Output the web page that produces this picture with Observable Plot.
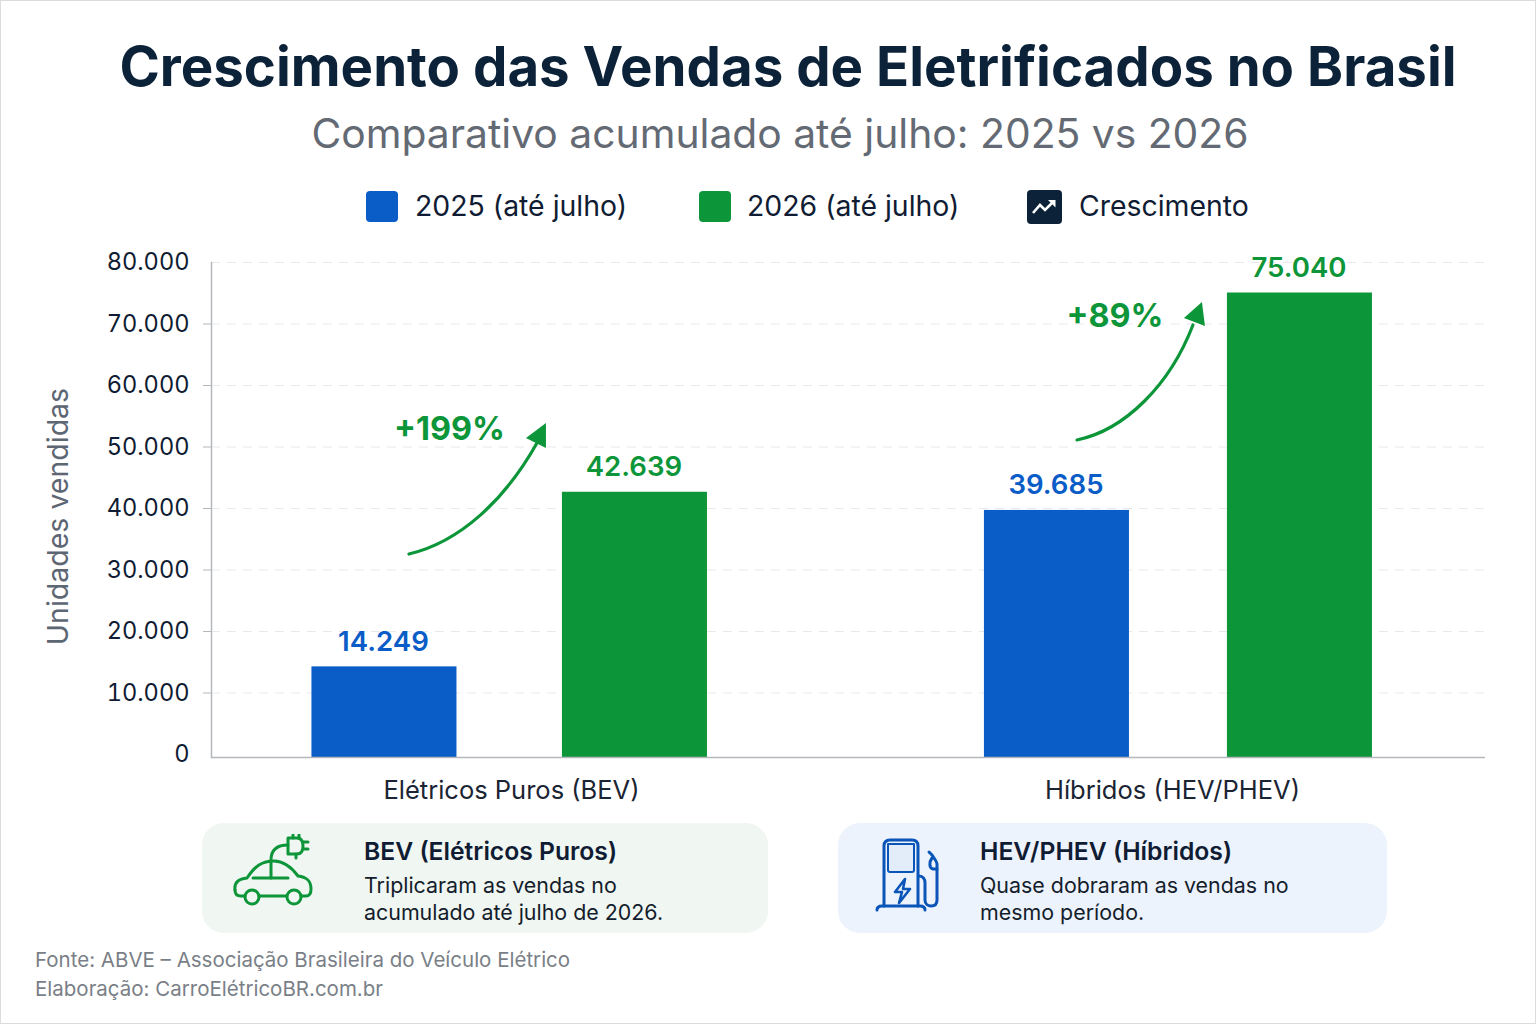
<!DOCTYPE html>
<html lang="pt-BR">
<head>
<meta charset="utf-8">
<title>Crescimento das Vendas de Eletrificados no Brasil</title>
<script src="https://cdn.jsdelivr.net/npm/d3@7"></script>
<script src="https://cdn.jsdelivr.net/npm/@observablehq/plot@0.6"></script>
<style>
  html,body{margin:0;padding:0;background:#fff}
  #page{position:relative;width:1536px;height:1024px;overflow:hidden;font-family:Inter,sans-serif;background:#fff;box-sizing:border-box}
  #page>*{position:absolute}
  #frameline{left:0;top:0;width:1536px;height:1024px;box-sizing:border-box;border:1px solid #dcdcdc;pointer-events:none}
  h1,h2,p{margin:0;font-weight:normal}
  #title{left:0;width:1576px;top:32px;text-align:center;font-size:54.6px;font-weight:700;color:#0b2239;line-height:68px;white-space:nowrap}
  #subtitle{left:0;width:1560px;top:106px;text-align:center;font-size:40.8px;color:#646a74;line-height:54px;white-space:nowrap}
  .lg{font-size:28.4px;color:#101c33;line-height:36px;white-space:nowrap;top:188px}
  .sw{top:191px;width:32px;height:31px;border-radius:4px}
  .card{top:823px;height:110px;border-radius:22px}
  .ct{font-size:24.7px;font-weight:600;color:#101c33;line-height:32px;top:835px;white-space:nowrap}
  .cb{font-size:21.4px;color:#141d2c;line-height:27px;top:872px;white-space:nowrap}
  #src{left:35px;top:945px;font-size:20.5px;line-height:29px;color:#7a7f87;white-space:nowrap}
  #chart{left:0;top:240px}
</style>
</head>
<body>
<div id="page">
  <h1 id="title">Crescimento das Vendas de Eletrificados no Brasil</h1>
  <h2 id="subtitle">Comparativo acumulado até julho: 2025 vs 2026</h2>

  <div class="sw" style="left:366px;background:#0a5cc7"></div>
  <div class="lg" style="left:415px">2025 (até julho)</div>
  <div class="sw" style="left:699px;background:#0d9639"></div>
  <div class="lg" style="left:747px">2026 (até julho)</div>
  <svg style="left:1027px;top:190px" width="35" height="34" viewBox="0 0 35 34">
    <rect width="35" height="34" rx="4" fill="#0b2239"/>
    <path d="M6 23 L13 15 L18 20 L27 11" fill="none" stroke="#fff" stroke-width="2.6"/>
    <path d="M21 10 H28.500 V17.500 Z" fill="#fff"/>
  </svg>
  <div class="lg" style="left:1079px">Crescimento</div>

  <div id="chart"></div>

  <div class="card" style="left:202px;width:566px;background:#f0f6f1"></div>
  <svg style="left:230px;top:834px" width="86" height="74" viewBox="0 0 86 74" fill="none" stroke="#0d9639" stroke-width="3" stroke-linecap="round" stroke-linejoin="round">
    <path d="M41 44 V26 C41 16 47 11 58 11"/>
    <path d="M58 4 H67 C71 4 73 7 73 12 C73 17 71 20 67 20 H58 Z"/>
    <path d="M63 1 V4 M69 1 V4 M73 8 H78 M73 15 H78 M66 20 V24"/>
    <path d="M5 56 C4 47 10 45 17 44 C25 32 32 27 44 27 C55 27 62 34 68 42 C76 43 81 46 81 55 C81 60 79 62 76 62 H71"/>
    <path d="M5 56 C5 60 7 62 11 62 H15"/>
    <path d="M29 62 H56"/>
    <path d="M23 44 H58"/>
    <circle cx="22" cy="63" r="7"/>
    <circle cx="64" cy="63" r="7"/>
  </svg>
  <div class="ct" style="left:364px">BEV (Elétricos Puros)</div>
  <div class="cb" style="left:364px">Triplicaram as vendas no<br>acumulado até julho de 2026.</div>

  <div class="card" style="left:838px;width:549px;background:#edf3fc"></div>
  <svg style="left:870px;top:834px" width="78" height="80" viewBox="0 0 78 80" fill="none" stroke="#0a55b8" stroke-width="3" stroke-linecap="round" stroke-linejoin="round">
    <path d="M14 72 V12 C14 8 16 6 20 6 H42 C46 6 48 8 48 12 V72"/>
    <path d="M7 76 C7 73 9 72 12 72 H50 C53 72 55 73 55 76"/>
    <path d="M18 10 H44 V36 C44 37 43 38 42 38 H20 C19 38 18 37 18 36 Z" fill="#e3ecf9" stroke="#0a55b8" stroke-width="2"/>
    <path d="M35 45 L25 58 H32 L29 69 L40 55 H33 Z" stroke-width="2.6"/>
    <path d="M49 42 C53 42 55 45 55 49 V66 C55 70 58 72 61 72 C65 72 67 70 67 66 V30 C67 28 64 24 62 21 L59 18"/>
    <path d="M62 24 C59 28 59 34 63 35 H67"/>
  </svg>
  <div class="ct" style="left:980px">HEV/PHEV (Híbridos)</div>
  <div class="cb" style="left:980px">Quase dobraram as vendas no<br>mesmo período.</div>

  <div id="src">Fonte: ABVE – Associação Brasileira do Veículo Elétrico<br>Elaboração: CarroElétricoBR.com.br</div>
  <div id="frameline"></div>
</div>
<script>
// --- Data ---
const categories = ["Elétricos Puros (BEV)", "Híbridos (HEV/PHEV)"];
const sales2025 = [14249, 39685];
const sales2026 = [42639, 75040];
const growthLabels = ["+199%", "+89%"];
const growthLabelLevels = [52850, 71200];
const yTicks = [0, 10000, 20000, 30000, 40000, 50000, 60000, 70000, 80000];
const yGridLines = [10000, 20000, 30000, 40000, 50000, 60000, 70000, 80000];
const yTickMarks = [10000, 20000, 30000, 40000, 50000, 60000, 70000];

// --- Styling ---
const BLUE = "#0a5cc7", GREEN = "#0d9639", INK = "#101c33";
const fmt = d3.formatLocale({decimal: ",", thousands: ".", grouping: [3], currency: ["", ""]}).format(",d");

// Horizontal offsets of the two bars from the centre of each group.
const offsets2025 = [-127, -115.5];
const offsets2026 = [123.5, 127.5];
const growthLabelOffsets = [-62, -57.5];

const barMarks = (values, offsets, color) => categories.flatMap((c, i) => {
  const row = [{category: c, value: values[i]}];
  return [
    Plot.barY(row, {x: "category", y: "value", fill: color, dx: offsets[i], insetBottom: -3}),
    Plot.text(row, {x: "category", y: "value", text: d => fmt(d.value), dx: offsets[i] - 1, dy: -25,
      fill: color, fontSize: 27.6, fontWeight: 600})
  ];
});

const growthMarks = categories.map((c, i) =>
  Plot.text([{category: c, level: growthLabelLevels[i], label: growthLabels[i]}], {
    x: "category", y: "level", text: "label", dx: growthLabelOffsets[i],
    fill: GREEN, fontSize: 32.4, fontWeight: 700
  }));

// Curved growth arrows with a solid head, anchored to the plot's scales.
function growthArrows(index, {x, y}, values, dims) {
  const bw = x.bandwidth ? x.bandwidth() / 2 : 72.5;
  const g = d3.create("svg:g").attr("fill", GREEN).attr("stroke", GREEN);
  const shapes = [
    {c: categories[0], lv: [32520, 34470, 41300, 50570, 53820, 51380, 49760],
     px: [-102, -51, -6, 26, 35, 15, 35]},
    {c: categories[1], lv: [51060, 52680, 60000, 69760, 73500, 70900, 69600],
     px: [-95, -47, -2, 21, 30, 12, 33]}
  ];
  for (const s of shapes) {
    const cx = x(s.c) + bw;
    const X = s.px.map(p => cx + p), Y = s.lv.map(v => y(v));
    g.append("path").attr("fill", "none").attr("stroke-width", 3.2).attr("stroke-linecap", "round")
      .attr("d", `M${X[0]},${Y[0]} C${X[1]},${Y[1]} ${X[2]},${Y[2]} ${X[3]},${Y[3]}`);
    g.append("path").attr("stroke", "none")
      .attr("d", `M${X[4]},${Y[4]} L${X[5]},${Y[5]} L${X[6]},${Y[6]} Z`);
  }
  return g.node();
}

const chart = Plot.plot({
  width: 1536,
  height: 580,
  marginLeft: 211,
  marginRight: 51,
  marginTop: 22,
  marginBottom: 66,
  style: {fontFamily: "Inter, sans-serif", background: "transparent", overflow: "visible"},
  x: {type: "band", domain: categories, paddingInner: 0.7806, paddingOuter: 0.354, align: 0.486, round: false, label: null},
  y: {domain: [0, 80000], label: null},
  marks: [
    Plot.gridY(yGridLines, {stroke: "#e8e9eb", strokeOpacity: 1, strokeDasharray: "9 7", strokeWidth: 1.2}),
    Plot.axisY({ticks: yTickMarks, tickSize: 8, tickFormat: () => "", stroke: "#b5b7ba", label: null}),
    Plot.axisY({ticks: yTicks, tickSize: 0, tickPadding: 22, tickFormat: fmt, fontSize: 23.6, fill: INK, label: null}),
    Plot.text(["Unidades vendidas"], {frameAnchor: "left", textAnchor: "middle", dx: -153, dy: 8, rotate: -90, fontSize: 28.5, fill: "#5d6673"}),
    ...barMarks(sales2025, offsets2025, BLUE),
    ...barMarks(sales2026, offsets2026, GREEN),
    Plot.frame({anchor: "left", stroke: "#b5b7ba", strokeWidth: 1.5, insetBottom: -3}),
    Plot.ruleY([0], {dy: 3, stroke: "#b5b7ba", strokeWidth: 1.5}),
    Plot.axisX({anchor: "bottom", tickSize: 0, tickPadding: 26, fontSize: 25.5, fill: "#1a2433", label: null}),
    ...growthMarks,
    growthArrows
  ]
});
document.getElementById("chart").appendChild(chart);
</script>
</body>
</html>
